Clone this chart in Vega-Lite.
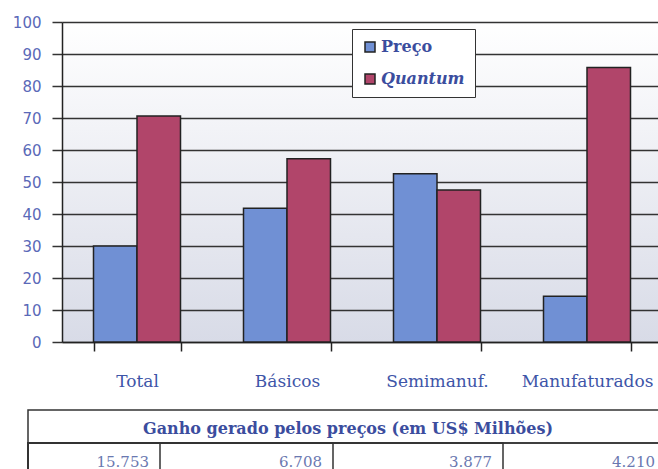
{
  "$schema": "https://vega.github.io/schema/vega-lite/v6.json",
  "padding": {"left": 12, "top": 15, "right": 0, "bottom": 0},
  "background": "#ffffff",
  "spacing": 20,
  "datasets": {
    "barras": [
      {"categoria": "Total", "serie": "Preço", "valor": 30},
      {"categoria": "Total", "serie": "Quantum", "valor": 70.6},
      {"categoria": "Básicos", "serie": "Preço", "valor": 41.8},
      {"categoria": "Básicos", "serie": "Quantum", "valor": 57.3},
      {"categoria": "Semimanuf.", "serie": "Preço", "valor": 52.6},
      {"categoria": "Semimanuf.", "serie": "Quantum", "valor": 47.5},
      {"categoria": "Manufaturados", "serie": "Preço", "valor": 14.3},
      {"categoria": "Manufaturados", "serie": "Quantum", "valor": 85.8}
    ],
    "cabecalho": [
      {"linha": "titulo", "coluna": 4, "texto": "Ganho gerado pelos preços (em US$ Milhões)"}
    ],
    "ganhos": [
      {"linha": "valores", "coluna": 1, "categoria": "Total", "ganho": "15.753"},
      {"linha": "valores", "coluna": 2, "categoria": "Básicos", "ganho": "6.708"},
      {"linha": "valores", "coluna": 3, "categoria": "Semimanuf.", "ganho": "3.877"},
      {"linha": "valores", "coluna": 4, "categoria": "Manufaturados", "ganho": "4.210"}
    ]
  },
  "vconcat": [
    {
      "width": 600,
      "height": 320,
      "data": {"name": "barras"},
      "view": {
        "stroke": null,
        "fill": {
          "gradient": "linear", "x1": 0, "y1": 0, "x2": 0, "y2": 1,
          "stops": [
            {"offset": 0, "color": "#ffffff"},
            {"offset": 1, "color": "#d8dbe7"}
          ]
        }
      },
      "mark": {"type": "bar", "stroke": "#222222", "strokeWidth": 1.5},
      "encoding": {
        "x": {
          "field": "categoria", "type": "nominal", "sort": null,
          "scale": {"paddingInner": 0.42, "paddingOuter": 0.21},
          "axis": {
            "title": null, "labelAngle": 0, "tickBand": "extent",
            "tickSize": 9, "tickColor": "#222222", "tickWidth": 1.5,
            "domainColor": "#222222", "domainWidth": 1.5,
            "labelFont": "DejaVu Serif", "labelFontSize": 17,
            "labelColor": "#3e55a8", "labelPadding": 22
          }
        },
        "xOffset": {"field": "serie", "type": "nominal", "sort": ["Preço", "Quantum"]},
        "y": {
          "field": "valor", "type": "quantitative",
          "scale": {"domain": [0, 100], "nice": false},
          "axis": {
            "title": null, "values": [0, 10, 20, 30, 40, 50, 60, 70, 80, 90, 100],
            "grid": true, "gridColor": "#333333", "gridWidth": 1.5, "gridOpacity": 1,
            "tickSize": 10, "tickColor": "#333333", "tickWidth": 1.5,
            "domainColor": "#222222", "domainWidth": 1.5,
            "labelFont": "DejaVu Sans", "labelFontSize": 15,
            "labelColor": "#5a69b8", "labelPadding": 11
          }
        },
        "color": {
          "field": "serie", "type": "nominal", "sort": ["Preço", "Quantum"],
          "scale": {"domain": ["Preço", "Quantum"], "range": ["#7090d4", "#b1456a"]},
          "legend": {
            "title": null, "orient": "none", "legendX": 290, "legendY": 7,
            "fillColor": "#ffffff", "strokeColor": "#333333", "padding": 10,
            "symbolType": "square", "symbolSize": 100,
            "symbolStrokeColor": "#222222", "symbolStrokeWidth": 1.5,
            "labelFont": "DejaVu Serif", "labelFontSize": 16, "labelFontWeight": "bold",
            "labelColor": "#3b4d9e", "labelOffset": 3, "rowPadding": 16,
            "encode": {
              "labels": {"update": {"fontStyle": {"signal": "datum.value === 'Quantum' ? 'italic' : 'normal'"}}},
              "symbols": {"update": {"stroke": {"value": "#222222"}, "strokeWidth": {"value": 1.5}}}
            }
          }
        }
      }
    },
    {
      "width": 572,
      "height": 66,
      "view": {"stroke": null},
      "encoding": {
        "y": {
          "field": "linha", "type": "nominal",
          "scale": {"domain": ["titulo", "valores"], "paddingInner": 0, "paddingOuter": 0},
          "axis": null
        },
        "x": {
          "field": "coluna", "type": "quantitative", "stack": null,
          "scale": {"domain": [0, 1, 2, 3, 4], "range": [-34, 98, 271, 441, 604]},
          "axis": null
        }
      },
      "layer": [
        {
          "data": {"name": "cabecalho"},
          "mark": {"type": "bar", "filled": false, "color": "#333333", "strokeWidth": 1.5}
        },
        {
          "data": {"name": "ganhos"},
          "mark": {"type": "bar", "filled": false, "color": "#333333", "strokeWidth": 1.5}
        },
        {
          "data": {"name": "cabecalho"},
          "mark": {"type": "text", "font": "DejaVu Serif", "fontSize": 16, "fontWeight": "bold", "color": "#3b4d9e", "dy": 2},
          "encoding": {"x": null, "text": {"field": "texto", "type": "nominal"}}
        },
        {
          "data": {"name": "ganhos"},
          "mark": {"type": "text", "font": "DejaVu Serif", "fontSize": 15, "color": "#6a78b0", "align": "right", "dx": -11, "dy": 2},
          "encoding": {
            "text": {"field": "ganho", "type": "nominal"}
          }
        }
      ]
    }
  ]
}
